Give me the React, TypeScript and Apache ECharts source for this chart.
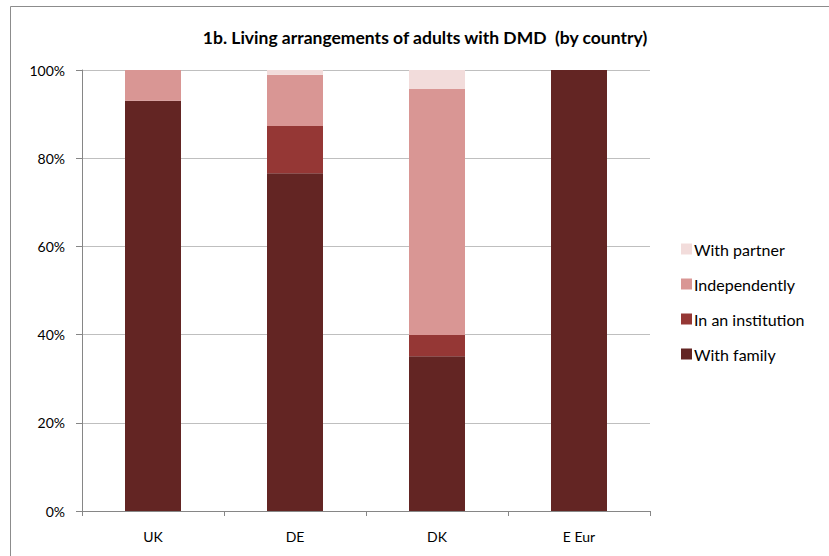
import React, { useEffect, useRef } from "react";
import * as echarts from "echarts";

const categories = ["UK", "DE", "DK", "E Eur"];
const withFamily = [93.0, 76.6, 35.1, 100];
const inInstitution = [0, 10.7, 4.8, 0];
const independently = [7.0, 11.6, 55.8, 0];
const withPartner = [0, 1.1, 4.3, 0];
const yTicks = [0, 20, 40, 60, 80, 100];

const colors = {
  family: "#632523",
  institution: "#953735",
  independent: "#D99694",
  partner: "#F2DCDB",
};

export default function App() {
  const ref = useRef<HTMLDivElement>(null);
  useEffect(() => {
    if (!ref.current) return;
    const chart = echarts.init(ref.current, null, { renderer: "svg" });
    const font = "Lato, 'Open Sans', sans-serif";
    const mk = (name: string, data: number[], color: string) => ({
      name,
      type: "bar",
      stack: "total",
      data,
      barWidth: 56,
      itemStyle: { color },
      emphasis: { disabled: true },
    });
    chart.setOption({
      animation: false,
      backgroundColor: "#ffffff",
      textStyle: { fontFamily: font },
      title: {
        text: "1b. Living arrangements of adults with DMD  (by country)",
        left: 420,
        textAlign: "center",
        top: 23,
        textStyle: { fontFamily: font, fontSize: 17.5, fontWeight: "bold", color: "#000" },
      },
      graphic: [
        {
          type: "rect",
          shape: { x: 10.5, y: 6.5, width: 900, height: 700 },
          style: { fill: "none", stroke: "#8c8c8c", lineWidth: 1 },
          silent: true,
        },
      ],
      legend: {
        orient: "vertical",
        left: 676,
        top: 236,
        itemWidth: 11,
        itemHeight: 11,
        itemGap: 19,
        icon: "rect",
        data: ["With partner", "Independently", "In an institution", "With family"],
        textStyle: { fontFamily: font, fontSize: 16, color: "#000", padding: [0, 0, 0, -3] },
      },
      grid: { left: 82, right: 179, top: 70, bottom: 45, containLabel: false },
      xAxis: {
        type: "category",
        data: categories,
        axisLine: { lineStyle: { color: "#868686" } },
        axisTick: { show: true, length: 5, lineStyle: { color: "#868686" } },
        axisLabel: { color: "#000", fontSize: 14, fontFamily: font, margin: 18 },
      },
      yAxis: {
        type: "value",
        min: 0,
        max: 100,
        interval: 20,
        axisLine: { show: true, lineStyle: { color: "#868686" } },
        axisTick: { show: true, length: 6, lineStyle: { color: "#868686" } },
        axisLabel: {
          color: "#000",
          fontSize: 14,
          fontFamily: font,
          margin: 17,
          formatter: (v: number) => (yTicks.includes(v) ? v + "%" : ""),
        },
        splitLine: { show: true, lineStyle: { color: "#BFBFBF" } },
      },
      series: [
        mk("With family", withFamily, colors.family),
        mk("In an institution", inInstitution, colors.institution),
        mk("Independently", independently, colors.independent),
        mk("With partner", withPartner, colors.partner),
      ],
    });
    return () => chart.dispose();
  }, []);
  return <div ref={ref} style={{ width: 829, height: 556, position: "absolute", left: 0, top: 0 }} />;
}
